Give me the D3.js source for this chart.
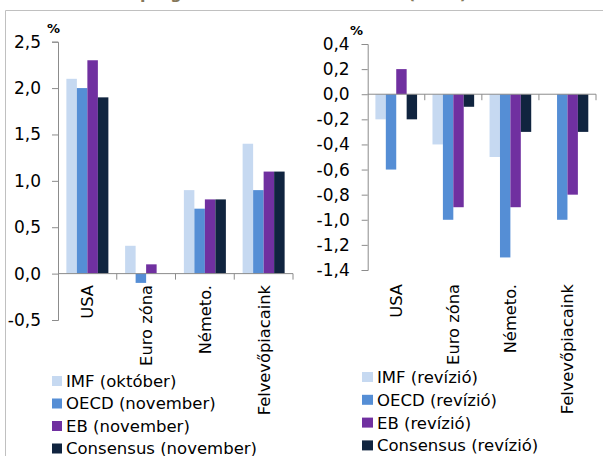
<!DOCTYPE html>
<html><head><meta charset="utf-8">
<script src="https://cdn.jsdelivr.net/npm/d3@7"></script>
<style>
body{margin:0;background:#fff;}
svg{display:block;font-family:"DejaVu Sans",sans-serif;}
</style></head>
<body>
<svg id="c" width="603" height="456"></svg>
<script>
const categories = ["USA", "Euro zóna", "Németo.", "Felvevőpiacaink"];
const seriesLeft = ["IMF (október)", "OECD (november)", "EB (november)", "Consensus (november)"];
const seriesRight = ["IMF (revízió)", "OECD (revízió)", "EB (revízió)", "Consensus (revízió)"];
const colors = ["#c6d9f1", "#558ed5", "#7030a0", "#10243f"];
// values per series, in category order
const imfLeft  = [2.1, 0.3, 0.9, 1.4];
const oecdLeft = [2.0, -0.1, 0.7, 0.9];
const ebLeft   = [2.3, 0.1, 0.8, 1.1];
const consLeft = [1.9, 0.0, 0.8, 1.1];
const imfRight  = [-0.2, -0.4, -0.5, 0.0];
const oecdRight = [-0.6, -1.0, -1.3, -1.0];
const ebRight   = [0.2, -0.9, -0.9, -0.8];
const consRight = [-0.2, -0.1, -0.3, -0.3];
const ticksLeft = [2.5, 2.0, 1.5, 1.0, 0.5, 0.0, -0.5];
const ticksRight = [0.4, 0.2, 0.0, -0.2, -0.4, -0.6, -0.8, -1.0, -1.2, -1.4];
const titleText = "prognózisok és revíziók";
const titleYear = "(2014)";

const svg = d3.select("#c");
const fmt = v => d3.format(".1f")(v).replace(".", ",").replace("−", "-");

// frame
svg.append("line").attr("x1", 5.5).attr("x2", 603).attr("y1", 10.5).attr("y2", 10.5).attr("stroke", "#c0c0c0");
svg.append("line").attr("x1", 5.5).attr("x2", 5.5).attr("y1", 10.5).attr("y2", 456).attr("stroke", "#c0c0c0");
// cut-off title
svg.append("text").attr("x", 140).attr("y", -1).attr("font-size", 16).attr("font-weight", "bold").attr("fill", "#85785a").text(titleText);
svg.append("text").attr("x", 408).attr("y", -1).attr("font-size", 16).attr("font-weight", "bold").attr("fill", "#85785a").text(titleYear);

function panel(cfg) {
  const g = svg.append("g");
  const y = d3.scaleLinear().domain([cfg.ticks[cfg.ticks.length - 1], cfg.ticks[0]]).range([cfg.y1, cfg.y0]);
  const x0 = d3.scaleBand().domain(categories).range([cfg.x0, cfg.x1]).paddingInner(cfg.pad).paddingOuter(cfg.pad / 2);
  const x1 = d3.scaleBand().domain(d3.range(4)).range([0, x0.bandwidth()]);
  const data = cfg.values;
  // bars
  data.forEach((vals, si) => {
    g.selectAll(null).data(vals).enter().append("rect")
      .attr("x", (d, i) => x0(categories[i]) + x1(si))
      .attr("width", x1.bandwidth())
      .attr("y", d => y(Math.max(0, d)))
      .attr("height", d => Math.abs(y(d) - y(0)))
      .attr("fill", colors[si]);
  });
  const axisColor = "#8c8c8c";
  // y axis
  const ya = d3.axisLeft(y).tickValues(cfg.ticks).tickSize(6).tickPadding(cfg.tickPad).tickFormat(fmt);
  const yg = g.append("g").attr("transform", `translate(${cfg.x0},0)`).call(ya);
  yg.select(".domain").attr("stroke", axisColor);
  yg.selectAll(".tick line").attr("stroke", axisColor);
  yg.selectAll(".tick text").attr("font-size", 17).attr("font-family", "DejaVu Sans").attr("fill", "#000");
  // zero line
  g.append("line").attr("x1", cfg.x0).attr("x2", cfg.x1).attr("y1", y(0)).attr("y2", y(0)).attr("stroke", axisColor);
  // category ticks
  const bounds = [cfg.x0].concat(categories.map(c => x0(c) + x0.bandwidth() + x0.step() * cfg.pad / 2));
  g.selectAll(null).data(bounds.slice(1)).enter().append("line")
    .attr("x1", d => d).attr("x2", d => d).attr("y1", y(0)).attr("y2", y(0) + 6).attr("stroke", axisColor);
  // category labels
  g.selectAll(null).data(categories).enter().append("text")
    .attr("transform", c => `translate(${x0(c) + x0.bandwidth() / 2},${cfg.labY}) rotate(-90)`)
    .attr("text-anchor", "end").attr("dy", "0.36em").attr("font-size", 16.3).attr("fill", "#000")
    .text(c => c);
  // percent label
  g.append("text").attr("x", cfg.pctX).attr("y", cfg.pctY).attr("font-size", 13).attr("font-weight", "bold").attr("fill", "#000").text("%");
  // legend
  const lg = g.selectAll(null).data(cfg.series).enter().append("g")
    .attr("transform", (d, i) => `translate(${cfg.legX},${cfg.legY + i * cfg.legStep})`);
  lg.append("rect").attr("x", 0).attr("y", -5).attr("width", cfg.sq).attr("height", 10).attr("fill", (d, i) => colors[i]);
  lg.append("text").attr("x", cfg.sq + 4).attr("dy", "0.36em").attr("font-size", 16.5).attr("fill", "#000").text(d => d);
}

panel({
  ticks: ticksLeft, y0: 41.7, y1: 320, x0: 58, x1: 293, pad: 0.285, tickPad: 11,
  values: [imfLeft, oecdLeft, ebLeft, consLeft], series: seriesLeft,
  labY: 285, pctX: 47, pctY: 33, legX: 52, legY: 381, legStep: 22.5, sq: 10
});
panel({
  ticks: ticksRight, y0: 44, y1: 270, x0: 367.7, x1: 596, pad: 0.27, tickPad: 12,
  values: [imfRight, oecdRight, ebRight, consRight], series: seriesRight,
  labY: 284, pctX: 350, pctY: 35, legX: 362, legY: 377, legStep: 22.8, sq: 11
});
</script>
</body></html>
